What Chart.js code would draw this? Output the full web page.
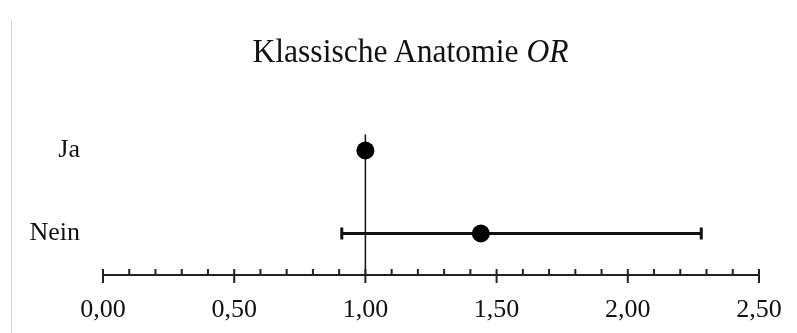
<!DOCTYPE html>
<html>
<head>
<meta charset="utf-8">
<script src="https://cdn.jsdelivr.net/npm/chart.js@4"></script>
<style>
  html,body{margin:0;padding:0;background:#fff;}
  #wrap{position:relative;width:797px;height:333px;overflow:hidden;}
  #edge{position:absolute;left:11px;top:20px;bottom:0;border-left:1px solid #d6d6d6;}
  #title{position:absolute;left:0;width:797px;top:34px;text-align:center;white-space:nowrap;
    font-family:'Liberation Serif','Times New Roman',serif;font-size:34px;line-height:34px;color:#111;
    transform:translateX(12px) scaleX(0.93);}
  #box{position:absolute;left:0;top:0;width:797px;height:333px;}
</style>
</head>
<body>
<div id="wrap">
  <div id="edge"></div>
  <div id="box"><canvas id="chart"></canvas></div>
  <div id="title">Klassische Anatomie <i>OR</i></div>
</div>
<script>
const categories = ['Ja', 'Nein'];
const oddsRatio = [1.00, 1.44];
const ciLow = [null, 0.91];
const ciHigh = [null, 2.28];
const refValue = 1.0;
const xMin = 0, xMax = 2.5, minorStep = 0.1, majorStep = 0.5;

const serif = "'Liberation Serif','Times New Roman',serif";
const ink = '#111';

const fmtTick = v => v.toFixed(2).replace('.', ',');
const isMajor = v => Math.abs(v / majorStep - Math.round(v / majorStep)) < 1e-6;

// error bars + reference line + tick marks
const forestPlugin = {
  id: 'forest',
  beforeDatasetsDraw(chart){
    const {ctx, scales:{x, y}, chartArea} = chart;
    ctx.save();
    // reference line at OR = 1
    const rx = x.getPixelForValue(refValue);
    ctx.strokeStyle = ink; ctx.lineWidth = 1.5;
    ctx.beginPath();
    ctx.moveTo(rx, y.getPixelForValue(0) - 16);
    ctx.lineTo(rx, chartArea.bottom);
    ctx.stroke();
    // confidence intervals
    ctx.lineWidth = 3;
    categories.forEach((c, i) => {
      if (ciLow[i] == null) return;
      const py = y.getPixelForValue(i);
      const x1 = x.getPixelForValue(ciLow[i]);
      const x2 = x.getPixelForValue(ciHigh[i]);
      ctx.beginPath();
      ctx.moveTo(x1, py); ctx.lineTo(x2, py);
      ctx.moveTo(x1, py - 6); ctx.lineTo(x1, py + 6);
      ctx.moveTo(x2, py - 6); ctx.lineTo(x2, py + 6);
      ctx.stroke();
    });
    ctx.restore();
  },
  afterDraw(chart){
    const {ctx, scales:{x}, chartArea} = chart;
    const base = chartArea.bottom;
    ctx.save();
    ctx.strokeStyle = '#222'; ctx.lineWidth = 2;
    x.ticks.forEach(t => {
      const px = x.getPixelForValue(t.value);
      ctx.beginPath();
      if (isMajor(t.value)) { ctx.moveTo(px, base - 6); ctx.lineTo(px, base + 8); }
      else { ctx.moveTo(px, base - 6); ctx.lineTo(px, base); }
      ctx.stroke();
    });
    ctx.restore();
  }
};

new Chart(document.getElementById('chart'), {
  type: 'scatter',
  data: {
    datasets: [{
      data: categories.map((c, i) => ({x: oddsRatio[i], y: c})),
      backgroundColor: '#000', borderColor: '#000',
      pointRadius: 9, pointHoverRadius: 9, borderWidth: 0
    }]
  },
  options: {
    responsive: true, maintainAspectRatio: false, animation: false,
    layout: {padding: {top: 109, left: 13, right: 38, bottom: 6}},
    plugins: {legend: {display: false}, tooltip: {enabled: false}},
    scales: {
      x: {
        type: 'linear', min: xMin, max: xMax,
        grid: {display: false, drawTicks: false},
        border: {display: true, color: '#222', width: 2},
        ticks: {
          stepSize: minorStep, autoSkip: false, maxRotation: 0, padding: 20,
          color: ink, font: {family: serif, size: 26},
          callback: v => isMajor(v) ? fmtTick(v) : ''
        },
        afterFit(s){ s.height = 52; s.paddingLeft = 0; s.paddingRight = 0; }
      },
      y: {
        type: 'category', labels: categories, offset: true,
        grid: {display: false, drawTicks: false},
        border: {display: false},
        ticks: {color: ink, padding: 23, font: {family: serif, size: 26}},
        afterFit(s){ s.width = 90; }
      }
    }
  },
  plugins: [forestPlugin]
});
</script>
</body>
</html>
